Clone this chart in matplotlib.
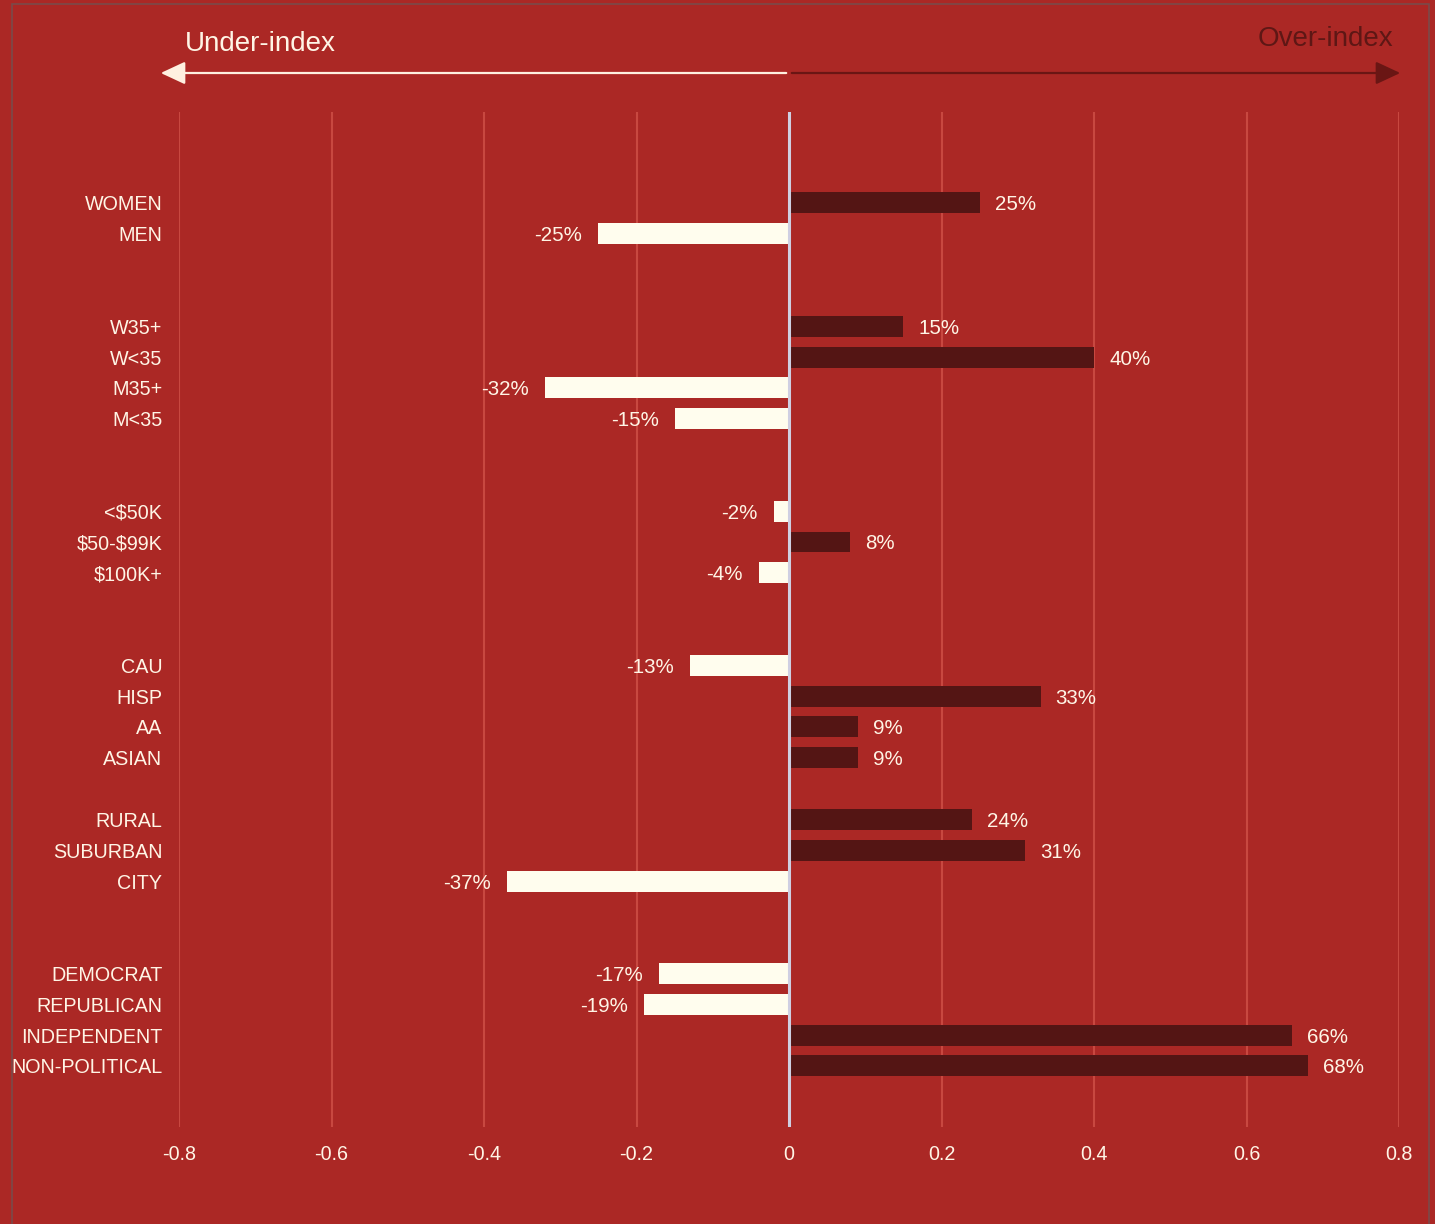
import matplotlib
matplotlib.use("Agg")
import matplotlib.pyplot as plt
from matplotlib.patches import Rectangle, FancyArrowPatch

plt.rcParams['font.family'] = ['Liberation Sans', 'DejaVu Sans']
plt.rcParams['text.parse_math'] = False

# ---- data ----
groups = [
    ["WOMEN", "MEN"],
    ["W35+", "W<35", "M35+", "M<35"],
    ["<$50K", "$50-$99K", "$100K+"],
    ["CAU", "HISP", "AA", "ASIAN"],
    ["RURAL", "SUBURBAN", "CITY"],
    ["DEMOCRAT", "REPUBLICAN", "INDEPENDENT", "NON-POLITICAL"],
]
values = [
    [0.25, -0.25],
    [0.15, 0.40, -0.32, -0.15],
    [-0.02, 0.08, -0.04],
    [-0.13, 0.33, 0.09, 0.09],
    [0.24, 0.31, -0.37],
    [-0.17, -0.19, 0.66, 0.68],
]
gaps_after = [2, 2, 2, 1, 2]
xticks = [-0.8, -0.6, -0.4, -0.2, 0, 0.2, 0.4, 0.6, 0.8]
xtick_labels = ["-0.8", "-0.6", "-0.4", "-0.2", "0", "0.2", "0.4", "0.6", "0.8"]

BG = "#AB2825"
POS = "#541514"
NEG = "#FFFDEE"
TXT = "#FFF5E6"
GRID = "#C84840"

labels, vals, pos = [], [], []
p = 0
for gi, (g, v) in enumerate(zip(groups, values)):
    for lab, val in zip(g, v):
        labels.append(lab)
        vals.append(val)
        pos.append(p)
        p += 1
    if gi < len(gaps_after):
        p += gaps_after[gi]

fig = plt.figure(figsize=(14.35, 12.24), dpi=100, facecolor=BG)
ax = fig.add_axes([179/1435, 1 - 1127/1224, (1399 - 179)/1435, (1127 - 112)/1224])
ax.set_facecolor(BG)

colors = [POS if v >= 0 else NEG for v in vals]
ax.barh(pos, vals, height=0.68, color=colors, zorder=3)

for y, v in zip(pos, vals):
    txt = f"{round(v*100):d}%"
    if v >= 0:
        ax.annotate(txt, (v, y), xytext=(15, -2), textcoords="offset pixels",
                    ha="left", va="center", color=TXT, fontsize=14.8, zorder=4)
    else:
        ax.annotate(txt, (v, y), xytext=(-16, -2), textcoords="offset pixels",
                    ha="right", va="center", color=TXT, fontsize=14.8, zorder=4)

ax.set_xlim(-0.8, 0.8)
ax.set_ylim(29.98, -2.95)
ax.set_xticks(xticks)
ax.set_xticklabels(xtick_labels)
ax.set_yticks(pos)
ax.set_yticklabels(labels)
ax.tick_params(axis="both", length=0, colors=TXT, labelsize=14.2)
ax.tick_params(axis="y", pad=12)
ax.tick_params(axis="x", pad=13)
for s in ax.spines.values():
    s.set_visible(False)
ax.xaxis.grid(True, color=GRID, linewidth=1.5, zorder=0)
ax.axvline(0, color="#CFCFE2", linewidth=2.2, zorder=5)

# top arrows and labels
W, H = 1435, 1224
def fx(px):
    return px / W
def fy(py):
    return 1 - py / H

fig.patches.append(FancyArrowPatch((fx(789), fy(73)), (fx(158), fy(73)), transform=fig.transFigure,
                                   arrowstyle="-|>,head_length=15,head_width=7", mutation_scale=1,
                                   color="#FFF0E0", linewidth=1.6))
fig.patches.append(FancyArrowPatch((fx(789), fy(73)), (fx(1403), fy(73)), transform=fig.transFigure,
                                   arrowstyle="-|>,head_length=15,head_width=7", mutation_scale=1,
                                   color="#6A1614", linewidth=1.6))
fig.text(fx(185), fy(44), "Under-index", ha="left", va="center", color=TXT, fontsize=20)
fig.text(fx(1393), fy(39), "Over-index", ha="right", va="center", color="#5E1715", fontsize=20)

# thin frame
fig.patches.append(Rectangle((fx(12), fy(1240)), fx(1429 - 12), (1240 - 4) / H, transform=fig.transFigure,
                             fill=False, edgecolor="#7A4A4A", linewidth=1.2))

fig.savefig("out.png", dpi=100, facecolor=BG)
